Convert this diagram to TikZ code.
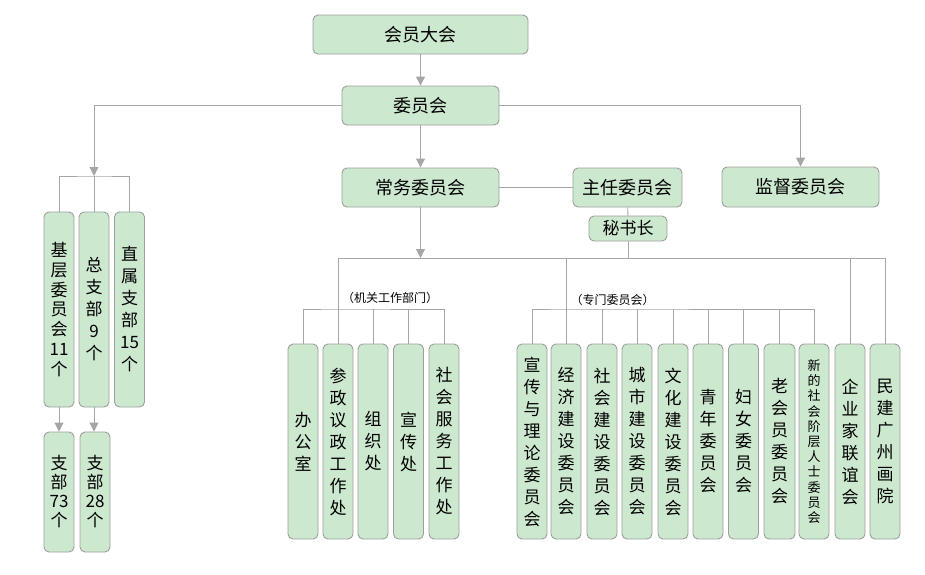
\documentclass[tikz,border=0pt]{standalone}
\usepackage{fontspec}
\setmainfont{Noto Sans CJK SC}
\usetikzlibrary{arrows.meta}
\definecolor{boxfill}{HTML}{CCE8CF}
\definecolor{boxline}{HTML}{9E9E9E}
\definecolor{linkgray}{HTML}{A6A6A6}

\begin{document}
\begin{tikzpicture}[x=1pt,y=-1pt,
	box/.style={draw=boxline, fill=boxfill, rounded corners=5pt, line width=0.9pt,
		minimum height=39pt, inner sep=0pt, font=\fontsize{18}{20}\selectfont},
	vbox/.style={draw=boxline, fill=boxfill, rounded corners=5pt, line width=0.9pt,
		minimum width=30pt, text width=30pt, minimum height=195pt, inner sep=0pt,
		align=center, font=\fontsize{17}{22}\selectfont},
	note/.style={inner sep=0pt, font=\fontsize{12}{14}\selectfont},
	link/.style={draw=linkgray, line width=0.9pt},
	arr/.style={link, -{Triangle[width=9pt,length=9pt]}, linkgray}]

		\useasboundingbox (0,0) rectangle (925,574);

		% top chain %
		\node[box, minimum width=215pt] (hydh) at (420.5,34.5) {会员大会};
		\node[box, minimum width=157pt] (wyh) at (420.5,105.5) {委员会};
		\node[box, minimum width=157pt] (cwwyh) at (420.5,187.5) {常务委员会};
		\node[box, minimum width=109pt] (zrwyh) at (627.5,187.5) {主任委员会};
		\node[box, minimum width=157pt, minimum height=40pt] (jdwyh) at (800.5,187) {监督委员会};
		\node[box, minimum width=78pt, minimum height=25pt, font=\fontsize{17}{19}\selectfont] (msz) at (628,228.5) {秘书长};

		% left branches %
		\node[vbox, font=\fontsize{17}{19.7}\selectfont] (jcwyh) at (59,309.5) {基\\层\\委\\员\\会\\11\\个};
		\node[vbox] (zzb) at (94,309.5) {总\\支\\部\\9\\个};
		\node[vbox, minimum width=29pt] (zsbz) at (129.5,309.5) {直\\属\\支\\部\\15\\个};
		\node[vbox, minimum height=120pt, font=\fontsize{17}{19}\selectfont] (zb73) at (59,492) {支\\部\\73\\个};
		\node[vbox, minimum width=28pt, minimum height=120pt, font=\fontsize{17}{19}\selectfont] (zb28) at (95,492) {支\\部\\28\\个};

		% working departments %
		\node[vbox] (bgs) at (303,441.5) {办\\公\\室};
		\node[vbox] (czyz) at (338,441.5) {参\\政\\议\\政\\工\\作\\处};
		\node[vbox] (zzc) at (373,441.5) {组\\织\\处};
		\node[vbox, minimum width=29pt] (xcc) at (408.5,441.5) {宣\\传\\处};
		\node[vbox] (shfw) at (444,441.5) {社\\会\\服\\务\\工\\作\\处};

		% special committees %
		\node[vbox] (xcll) at (532,441.5) {宣\\传\\与\\理\\论\\委\\员\\会};
		\node[vbox] (jjjs) at (566,441.5) {经\\济\\建\\设\\委\\员\\会};
		\node[vbox] (shjs) at (602,441.5) {社\\会\\建\\设\\委\\员\\会};
		\node[vbox] (csjs) at (637,441.5) {城\\市\\建\\设\\委\\员\\会};
		\node[vbox] (whjs) at (673,441.5) {文\\化\\建\\设\\委\\员\\会};
		\node[vbox] (qnwy) at (708,441.5) {青\\年\\委\\员\\会};
		\node[vbox, minimum width=29pt] (fnwy) at (743.5,441.5) {妇\\女\\委\\员\\会};
		\node[vbox, minimum width=31pt] (lhywy) at (779.5,441.5) {老\\会\\员\\委\\员\\会};
		\node[vbox, font=\fontsize{13}{15.2}\selectfont] (xjcwy) at (814,441.5) {新\\的\\社\\会\\阶\\层\\人\\士\\委\\员\\会};
		\node[vbox] (qyjlyh) at (850,441.5) {企\\业\\家\\联\\谊\\会};
		\node[vbox] (mjhy) at (885,441.5) {民\\建\\广\\州\\画\\院};

		% group labels %
		\node[note] (jglabel) at (390,298) {（机关工作部门）};
		\node[note] (zmlabel) at (612.5,300) {（专门委员会）};

		% split points %
		\coordinate (lsplit) at (94,176);
		\coordinate (msplit) at (420.5,258);
		\coordinate (jgsplit) at (338,309);
		\coordinate (zmsplit) at (566,309);

		% main arrows %
		\draw[arr] (hydh) -- (wyh);
		\draw[arr] (wyh) -- (cwwyh);
		\draw[arr] (wyh.east) -| (jdwyh.north);
		\draw[arr] (wyh.west) -| (lsplit);
		\draw[arr] (cwwyh) -- (msplit);

		% left tree %
		\draw[link] (jcwyh.north) |- (lsplit) -| (zsbz.north);
		\draw[link] (lsplit) -- (zzb.north);
		\draw[arr] (jcwyh) -- (zb73);
		\draw[arr] (zzb.south) -- (zzb.south |- zb28.north);

		% chairmen %
		\draw[link] (cwwyh) -- (zrwyh);
		\draw[link] (zrwyh) -- (msz);
		\draw[link] (msz.south) -- (msz.south |- msplit);

		% main bar %
		\draw[link] (czyz.north |- msplit) -- (mjhy.north |- msplit);
		\draw[link] (czyz.north |- msplit) -- (czyz.north);
		\draw[link] (jjjs.north |- msplit) -- (jjjs.north);
		\draw[link] (qyjlyh.north |- msplit) -- (qyjlyh.north);
		\draw[link] (mjhy.north |- msplit) -- (mjhy.north);

		% working department bar %
		\draw[link] (bgs.north) |- (jgsplit) -| (shfw.north);
		\draw[link] (zzc.north) -- (zzc.north |- jgsplit);
		\draw[link] (xcc.north) -- (xcc.north |- jgsplit);

		% special committee bar %
		\draw[link] (xcll.north) |- (zmsplit) -| (xjcwy.north);
		\draw[link] (shjs.north) -- (shjs.north |- zmsplit);
		\draw[link] (csjs.north) -- (csjs.north |- zmsplit);
		\draw[link] (whjs.north) -- (whjs.north |- zmsplit);
		\draw[link] (qnwy.north) -- (qnwy.north |- zmsplit);
		\draw[link] (fnwy.north) -- (fnwy.north |- zmsplit);
		\draw[link] (lhywy.north) -- (lhywy.north |- zmsplit);

	\end{tikzpicture}
\end{document}
